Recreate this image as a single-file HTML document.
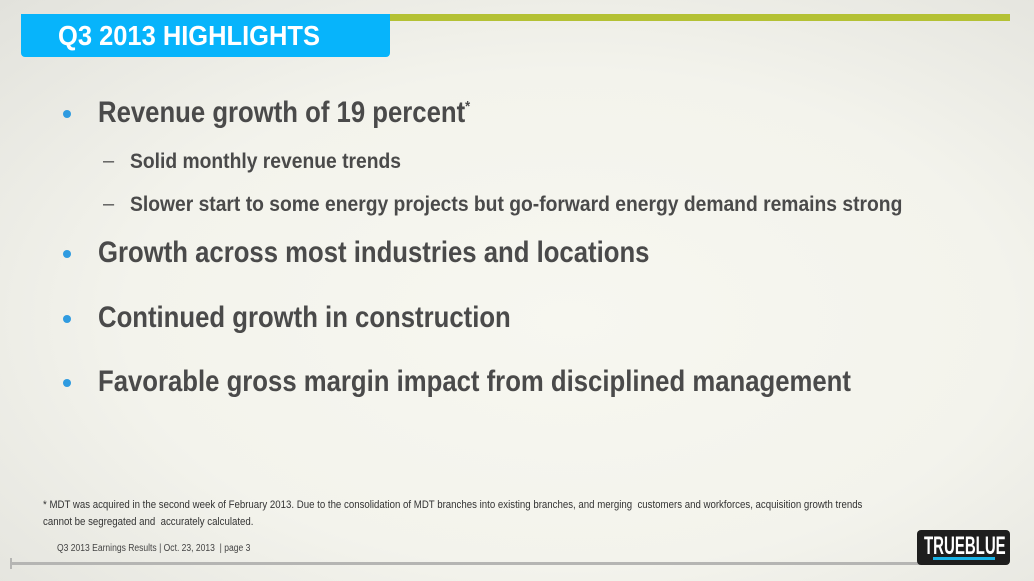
<!DOCTYPE html>
<html><head><meta charset="utf-8"><style>
body{margin:0;width:1034px;height:581px;overflow:hidden;font-family:"Liberation Sans",sans-serif;}
#bg{position:absolute;left:0;top:0;width:1034px;height:581px;background:radial-gradient(ellipse at 55% 55%,#f7f7f0 0%,#f3f3ec 55%,#e2e2dc 100%);}
.a{position:absolute;white-space:nowrap;transform-origin:left top;}
.b{font-weight:bold;color:#4a4a4a;}
.big{font-size:30px;transform:scaleX(0.857);}
.sub{font-size:21px;transform:scaleX(0.918);}
.dot{position:absolute;width:8px;height:8px;border-radius:50%;background:#2f9be0;}
</style></head><body><div id="bg"></div>
<div class="a" style="left:389px;top:14px;width:621px;height:7px;background:#b4c134"></div>
<div class="a" style="left:21px;top:14px;width:369px;height:43px;background:#07b4fb;border-radius:0 0 4px 4px"></div>
<div class="a" style="left:58px;top:20px;font-size:28px;font-weight:bold;color:#fff;transform:scaleX(0.91)">Q3 2013 HIGHLIGHTS</div>
<div class="dot" style="left:63px;top:110px"></div>
<div class="a b big" style="left:98px;top:96px">Revenue growth of 19 percent<sup style="font-size:15px">*</sup></div>
<div class="a" style="left:103px;top:150px;font-size:20px;color:#555">–</div>
<div class="a b sub" style="left:130px;top:150px">Solid monthly revenue trends</div>
<div class="a" style="left:103px;top:193px;font-size:20px;color:#555">–</div>
<div class="a b sub" style="left:130px;top:193px">Slower start to some energy projects but go-forward energy demand remains strong</div>
<div class="dot" style="left:63px;top:250px"></div>
<div class="a b big" style="left:98px;top:236px">Growth across most industries and locations</div>
<div class="dot" style="left:63px;top:315px"></div>
<div class="a b big" style="left:98px;top:301px">Continued growth in construction</div>
<div class="dot" style="left:63px;top:379px"></div>
<div class="a b big" style="left:98px;top:365px">Favorable gross margin impact from disciplined management</div>
<div class="a" style="left:43px;top:497px;font-size:11px;color:#333;line-height:17px;transform:scaleX(0.878)">* MDT was acquired in the second week of February 2013. Due to the consolidation of MDT branches into existing branches, and merging&nbsp; customers and workforces, acquisition growth trends<br>cannot be segregated and&nbsp; accurately calculated.</div>
<div class="a" style="left:57px;top:543px;font-size:10px;color:#444;transform:scaleX(0.854)">Q3 2013 Earnings Results | Oct. 23, 2013&nbsp; | page 3</div>
<div class="a" style="left:10px;top:562px;width:915px;height:3px;background:#b5b5b3"></div>
<div class="a" style="left:10px;top:558px;width:2px;height:11px;background:#b5b5b3"></div>
<div class="a" style="left:917px;top:530px;width:93px;height:35px;background:#1e1e1e;border-radius:4px"></div>
<div class="a" style="left:924px;top:532px;font-size:25px;font-weight:bold;color:#fff;transform:scaleX(0.6)">TRUEBLUE</div>
<div class="a" style="left:933px;top:557px;width:62px;height:3px;background:#19b3e6"></div>
</body></html>
